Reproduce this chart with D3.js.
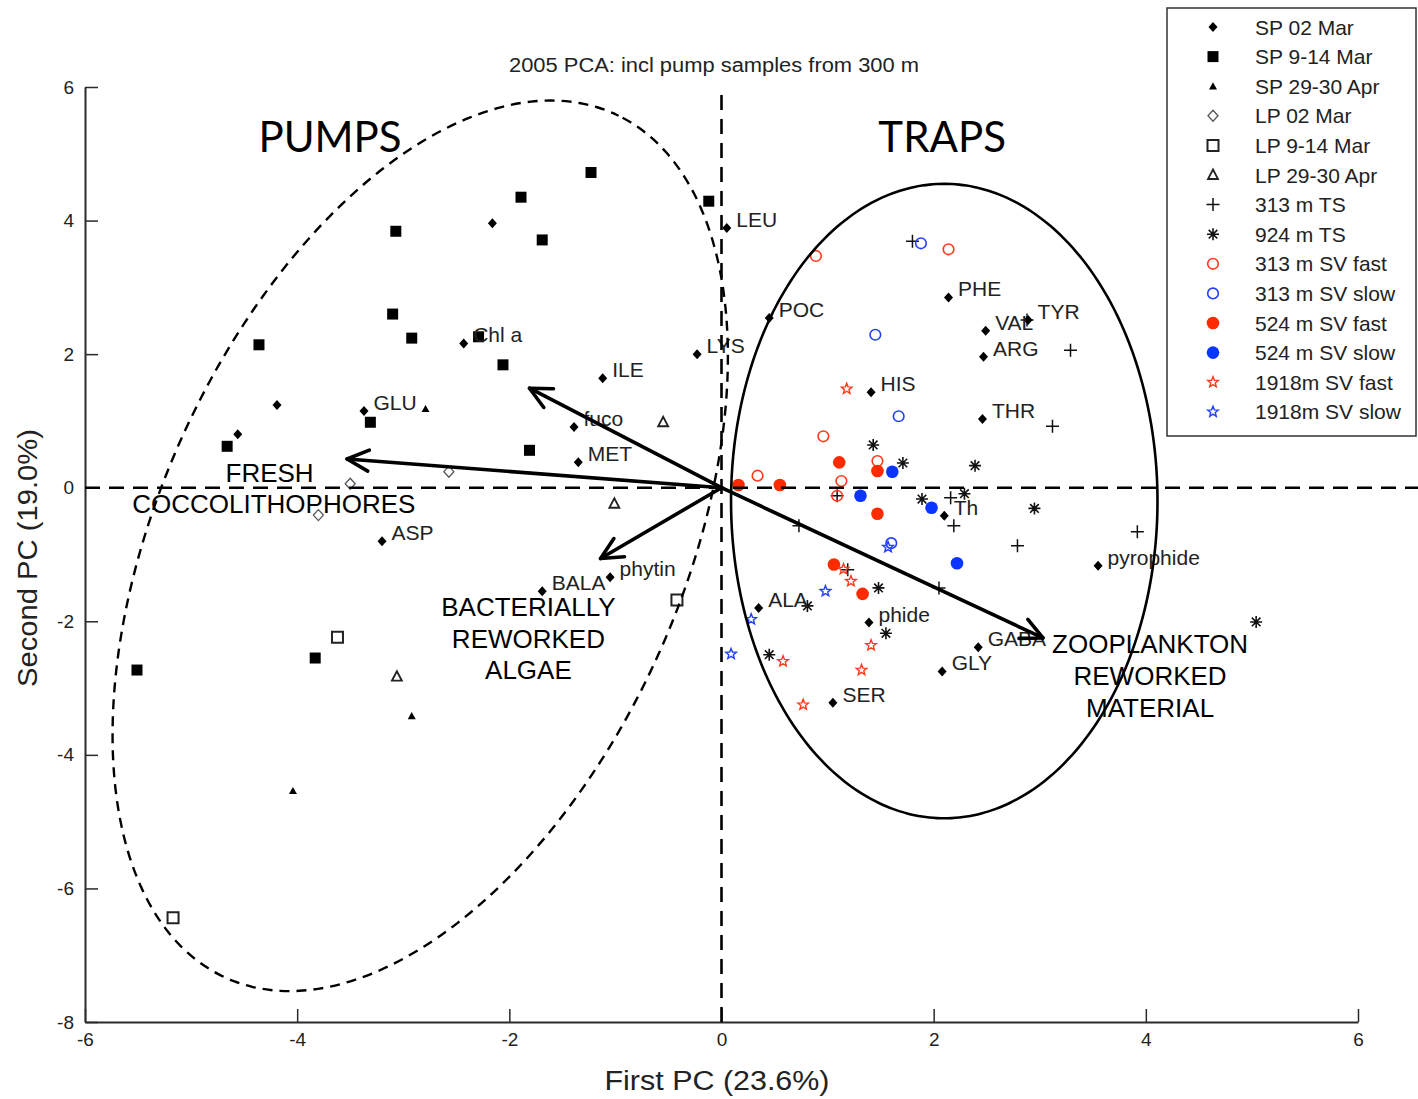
<!DOCTYPE html>
<html>
<head>
<meta charset="utf-8">
<script src="https://cdn.jsdelivr.net/npm/d3@7"></script>
<style>
  body { margin: 0; background: #fff; }
  svg { display: block; }
</style>
</head>
<body>
<svg id="chart" width="1418" height="1099"></svg>
<script>
// ---- PCA sample scores (First PC, Second PC) ----
const sp02Mar    = [[-2.16, 3.96], [-4.19, 1.24], [-4.56, 0.80]];
const sp914Mar   = [[-1.23, 4.72], [-1.89, 4.35], [-0.12, 4.29], [-3.07, 3.84], [-1.69, 3.71],
                    [-3.10, 2.60], [-4.36, 2.14], [-2.92, 2.24], [-2.29, 2.26], [-2.06, 1.84],
                    [-4.66, 0.62], [-3.31, 0.98], [-1.81, 0.56], [-5.51, -2.73], [-3.83, -2.55]];
const sp2930Apr  = [[-2.79, 1.18], [-2.92, -3.42], [-4.04, -4.54]];
const lp02Mar    = [[-2.57, 0.24], [-3.50, 0.06], [-3.80, -0.41]];
const lp914Mar   = [[-3.62, -2.24], [-0.42, -1.68], [-5.17, -6.44]];
const lp2930Apr  = [[-0.55, 0.98], [-1.01, -0.24], [-3.06, -2.83]];
const ts313      = [[1.80, 3.69], [3.29, 2.06], [3.12, 0.92], [1.09, -0.12], [0.73, -0.57],
                    [2.16, -0.15], [2.19, -0.57], [2.79, -0.87], [2.05, -1.50], [1.19, -1.23],
                    [3.92, -0.66], [2.88, 2.51]];
const ts924      = [[1.43, 0.64], [1.71, 0.37], [2.39, 0.33], [1.89, -0.17], [2.29, -0.09],
                    [2.95, -0.31], [1.48, -1.50], [0.81, -1.77], [1.55, -2.18], [0.45, -2.50],
                    [5.04, -2.01]];
const sv313Fast  = [[0.89, 3.47], [2.14, 3.57], [0.96, 0.77], [0.34, 0.18], [1.47, 0.40],
                    [1.13, 0.10], [1.09, -0.12]];
const sv313Slow  = [[1.88, 3.66], [1.45, 2.29], [1.67, 1.07], [1.60, -0.83]];
const sv524Fast  = [[0.16, 0.04], [0.55, 0.04], [1.11, 0.38], [1.47, 0.25], [1.47, -0.39],
                    [1.06, -1.15], [1.33, -1.59]];
const sv524Slow  = [[1.61, 0.24], [1.31, -0.12], [1.98, -0.30], [2.22, -1.13]];
const sv1918Fast = [[1.18, 1.48], [1.15, -1.22], [1.22, -1.40], [1.41, -2.36], [1.32, -2.73],
                    [0.58, -2.60], [0.77, -3.25]];
const sv1918Slow = [[1.57, -0.89], [0.98, -1.55], [0.28, -1.97], [0.09, -2.49]];

// ---- Variable loadings (name, PC1, PC2) ----
const loadings = [
  ["LEU", 0.05, 3.89], ["POC", 0.45, 2.54], ["LYS", -0.23, 2.00], ["Chl a", -2.43, 2.16],
  ["ILE", -1.12, 1.64], ["GLU", -3.37, 1.15], ["fuco", -1.39, 0.91], ["MET", -1.35, 0.38],
  ["ASP", -3.20, -0.80], ["BALA", -1.69, -1.55], ["phytin", -1.05, -1.34],
  ["PHE", 2.14, 2.85], ["VAL", 2.49, 2.35], ["TYR", 2.89, 2.51], ["ARG", 2.47, 1.96],
  ["HIS", 1.41, 1.43], ["THR", 2.46, 1.03], ["Th", 2.10, -0.42], ["pyrophide", 3.55, -1.17],
  ["ALA", 0.35, -1.80], ["phide", 1.39, -2.02], ["GABA", 2.42, -2.39], ["GLY", 2.08, -2.75],
  ["SER", 1.05, -3.22]
];

// ---- Interpretive arrows (tips, from origin) ----
const arrowTips = [[-1.81, 1.49], [-3.53, 0.43], [-1.14, -1.06], [3.03, -2.25]];

// ---- Axis ticks ----
const xTicks = [-6, -4, -2, 0, 2, 4, 6];
const yTicks = [-8, -6, -4, -2, 0, 2, 4, 6];

// ---- Legend entries ----
const seriesNames = ["SP 02 Mar", "SP 9-14 Mar", "SP 29-30 Apr", "LP 02 Mar", "LP 9-14 Mar",
  "LP 29-30 Apr", "313 m TS", "924 m TS", "313 m SV fast", "313 m SV slow",
  "524 m SV fast", "524 m SV slow", "1918m SV fast", "1918m SV slow"];
const seriesData = [sp02Mar, sp914Mar, sp2930Apr, lp02Mar, lp914Mar, lp2930Apr, ts313, ts924,
  sv313Fast, sv313Slow, sv524Fast, sv524Slow, sv1918Fast, sv1918Slow];

// ---- Marker styles ----
const RED = "#ff3a1c", BLUE = "#2440ff", RED_F = "#ff2a00", BLUE_F = "#0a34ff";
function circlePath(r) { return `M${r},0A${r},${r} 0 1 1 ${-r},0A${r},${r} 0 1 1 ${r},0Z`; }
function starPath(R, r) {
  const p = [];
  for (let i = 0; i < 10; i++) {
    const a = -Math.PI / 2 + i * Math.PI / 5, rad = i % 2 ? r : R;
    p.push([(rad * Math.cos(a)).toFixed(2), (rad * Math.sin(a)).toFixed(2)]);
  }
  return "M" + p.map(q => q.join(",")).join("L") + "Z";
}
const markers = [
  { d: "M0,-5L4.5,0L0,5L-4.5,0Z", fill: "#000", stroke: "none", sw: 0 },
  { d: "M-5.5,-5.5H5.5V5.5H-5.5Z", fill: "#000", stroke: "none", sw: 0 },
  { d: "M0,-4L4,3.2L-4,3.2Z", fill: "#000", stroke: "none", sw: 0 },
  { d: "M0,-5.5L5,0L0,5.5L-5,0Z", fill: "none", stroke: "#555", sw: 1.3 },
  { d: "M-5.5,-5.5H5.5V5.5H-5.5Z", fill: "none", stroke: "#222", sw: 2 },
  { d: "M0,-5.5L5,4L-5,4Z", fill: "none", stroke: "#222", sw: 1.8 },
  { d: "M-6.5,0H6.5M0,-6.5V6.5", fill: "none", stroke: "#111", sw: 1.5 },
  { d: "M-6,0H6M0,-6V6M-4.3,-4.3L4.3,4.3M-4.3,4.3L4.3,-4.3", fill: "none", stroke: "#111", sw: 1.6 },
  { d: circlePath(5.3), fill: "none", stroke: RED, sw: 1.6 },
  { d: circlePath(5.3), fill: "none", stroke: BLUE, sw: 1.6 },
  { d: circlePath(6.3), fill: RED_F, stroke: "none", sw: 0 },
  { d: circlePath(6.3), fill: BLUE_F, stroke: "none", sw: 0 },
  { d: starPath(5.6, 2.4), fill: "none", stroke: RED, sw: 1.4 },
  { d: starPath(5.6, 2.4), fill: "none", stroke: BLUE, sw: 1.4 }
];

const FONT = "'Liberation Sans', Arial, Helvetica, sans-serif";
const svg = d3.select("#chart");
svg.append("rect").attr("width", 1418).attr("height", 1099).attr("fill", "#fff");

const x = d3.scaleLinear().domain([-6, 6]).range([85, 1358]);
const y = d3.scaleLinear().domain([-8, 6]).range([1022, 87]);

function applyMarker(sel, m) {
  sel.attr("d", m.d).attr("fill", m.fill).attr("stroke", m.stroke).attr("stroke-width", m.sw);
}

// ---- Axes (bottom and left only, inward ticks) ----
const xAxis = svg.append("g").attr("transform", `translate(0,${y(-8)})`)
  .call(d3.axisBottom(x).tickValues(xTicks).tickSize(-13).tickSizeOuter(0).tickPadding(11)
    .tickFormat(d => String(d)));
const yAxis = svg.append("g").attr("transform", `translate(${x(-6)},0)`)
  .call(d3.axisLeft(y).tickValues(yTicks).tickSize(-13).tickSizeOuter(0).tickPadding(11)
    .tickFormat(d => String(d)));
[xAxis, yAxis].forEach(a => {
  a.select(".domain").attr("stroke", "#2a2a2a").attr("stroke-width", 2);
  a.selectAll(".tick line").attr("stroke", "#2a2a2a").attr("stroke-width", 1.5);
  a.selectAll(".tick text").attr("font-family", FONT).attr("font-size", 19).attr("fill", "#222");
});

// ---- Title and axis labels ----
svg.append("text").attr("x", 714).attr("y", 72).attr("text-anchor", "middle")
  .attr("font-family", FONT).attr("font-size", 20).attr("fill", "#222")
  .attr("textLength", 410).attr("lengthAdjust", "spacingAndGlyphs")
  .text("2005 PCA: incl pump samples from 300 m");
svg.append("text").attr("x", 717).attr("y", 1090).attr("text-anchor", "middle")
  .attr("font-family", FONT).attr("font-size", 27).attr("fill", "#222")
  .attr("textLength", 225).attr("lengthAdjust", "spacingAndGlyphs")
  .text("First PC (23.6%)");
svg.append("text").attr("transform", "translate(37,558) rotate(-90)").attr("text-anchor", "middle")
  .attr("font-family", FONT).attr("font-size", 27).attr("fill", "#222")
  .attr("textLength", 258).attr("lengthAdjust", "spacingAndGlyphs")
  .text("Second PC (19.0%)");

// ---- Sample markers ----
const pts = svg.append("g");
seriesData.forEach((data, i) => {
  pts.selectAll(null).data(data).enter().append("path")
    .attr("transform", d => `translate(${x(d[0])},${y(d[1])})`)
    .call(applyMarker, markers[i]);
});

// ---- Loadings with labels ----
const lg = svg.append("g");
lg.selectAll("path").data(loadings).enter().append("path")
  .attr("transform", d => `translate(${x(d[1])},${y(d[2])})`)
  .call(applyMarker, markers[0]);
lg.selectAll("text").data(loadings).enter().append("text")
  .attr("x", d => x(d[1]) + 9.5).attr("y", d => y(d[2]) - 1)
  .attr("font-family", FONT).attr("font-size", 21).attr("fill", "#222")
  .text(d => d[0]);

// ---- Group annotations ----
const headers = [["PUMPS", -3.69, 5.03], ["TRAPS", 2.08, 5.03]];
svg.selectAll(".hdr").data(headers).enter().append("text")
  .attr("x", d => x(d[1])).attr("y", d => y(d[2])).attr("text-anchor", "middle")
  .attr("font-family", "Lato, 'Open Sans', sans-serif").attr("font-size", 42).attr("fill", "#000")
  .text(d => d[0]);

const notes = [
  { lines: ["FRESH", "COCCOLITHOPHORES"], px: [-4.26, -4.22], py: 0.085, lh: 31 },
  { lines: ["BACTERIALLY", "REWORKED", "ALGAE"], px: [-1.82, -1.82, -1.82], py: -1.925, lh: 31.3 },
  { lines: ["ZOOPLANKTON", "REWORKED", "MATERIAL"], px: [4.04, 4.04, 4.04], py: -2.47, lh: 32 }
];
notes.forEach(n => {
  n.lines.forEach((t, i) => {
    svg.append("text").attr("x", x(n.px[i])).attr("y", y(n.py) + i * n.lh)
      .attr("text-anchor", "middle").attr("font-family", FONT).attr("font-size", 26)
      .attr("fill", "#000").text(t);
  });
});

// ---- Zero reference lines ----
svg.append("line").attr("x1", x(-6)).attr("x2", 1418).attr("y1", y(0)).attr("y2", y(0))
  .attr("stroke", "#000").attr("stroke-width", 2.6).attr("stroke-dasharray", "15,9");
svg.append("line").attr("x1", x(0)).attr("x2", x(0)).attr("y1", 95).attr("y2", y(-8))
  .attr("stroke", "#000").attr("stroke-width", 2.6).attr("stroke-dasharray", "15,9");

// ---- Group ellipses (centre, two conjugate half-axes in data units) ----
function ellipsePts(c, u, v) {
  return d3.range(0, 361, 2).map(a => {
    const t = a * Math.PI / 180;
    return [c[0] + u[0] * Math.cos(t) + v[0] * Math.sin(t), c[1] + u[1] * Math.cos(t) + v[1] * Math.sin(t)];
  });
}
const eLine = d3.line().x(d => x(d[0])).y(d => y(d[1])).curve(d3.curveCardinalClosed);
svg.append("path").attr("d", eLine(ellipsePts([-2.84, -0.87], [1.83, 6.47], [2.25, -1.61])))
  .attr("fill", "none").attr("stroke", "#000").attr("stroke-width", 2.4).attr("stroke-dasharray", "10,7");
svg.append("path").attr("d", eLine(ellipsePts([2.10, -0.20], [2.01, 0], [0, 4.75])))
  .attr("fill", "none").attr("stroke", "#000").attr("stroke-width", 2.6);

// ---- Arrows from origin ----
const ag = svg.append("g").attr("stroke", "#000").attr("stroke-width", 3.6)
  .attr("fill", "none").attr("stroke-linecap", "round").attr("stroke-linejoin", "round");
arrowTips.forEach(tp => {
  const x0 = x(0), y0 = y(0), x1 = x(tp[0]), y1 = y(tp[1]);
  const ang = Math.atan2(y0 - y1, x0 - x1), L = 24, spread = 26 * Math.PI / 180;
  ag.append("line").attr("x1", x0).attr("y1", y0).attr("x2", x1).attr("y2", y1);
  const a1 = [x1 + L * Math.cos(ang + spread), y1 + L * Math.sin(ang + spread)];
  const a2 = [x1 + L * Math.cos(ang - spread), y1 + L * Math.sin(ang - spread)];
  ag.append("path").attr("d", `M${a1[0]},${a1[1]}L${x1},${y1}L${a2[0]},${a2[1]}`);
});

// ---- Legend ----
const leg = svg.append("g");
leg.append("rect").attr("x", 1167).attr("y", 8).attr("width", 249).attr("height", 428)
  .attr("fill", "#fff").attr("stroke", "#333").attr("stroke-width", 1.5);
seriesNames.forEach((name, i) => {
  const cy = 27 + i * 29.6;
  leg.append("path").attr("transform", `translate(1213,${cy})`).call(applyMarker, markers[i]);
  leg.append("text").attr("x", 1255).attr("y", cy + 7.5)
    .attr("font-family", FONT).attr("font-size", 21).attr("fill", "#222").text(name);
});
</script>
</body>
</html>
